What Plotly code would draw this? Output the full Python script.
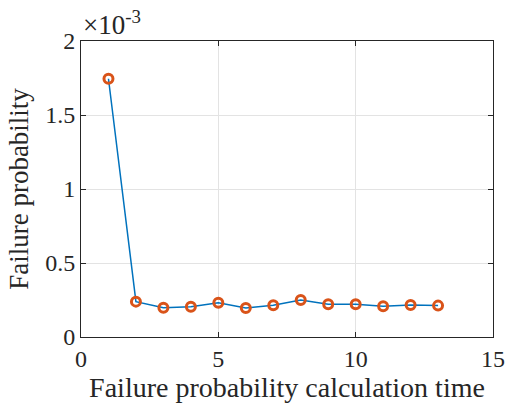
import plotly.graph_objects as go

calc_time = list(range(1, 14))
# failure probability in units of 1e-3
fail_prob = [1.745, 0.239, 0.198, 0.205, 0.232, 0.196, 0.214, 0.250, 0.221, 0.221, 0.207, 0.216, 0.212]
x_ticks = [0, 5, 10, 15]
y_ticks = [0, 0.5, 1, 1.5, 2]
y_tick_labels = ["0", "0.5", "1", "1.5", "2"]

serif = "Liberation Serif"

fig = go.Figure()
fig.add_trace(go.Scatter(
    x=calc_time, y=fail_prob, mode="lines+markers",
    line=dict(color="#0072BD", width=1.5),
    marker=dict(symbol="circle-open", size=9, color="#D95319", line=dict(width=3, color="#D95319")),
    showlegend=False,
))

fig.update_layout(
    width=505, height=408,
    margin=dict(l=81, r=12, t=41, b=71),
    plot_bgcolor="white", paper_bgcolor="white",
    font_family=serif, font_size=24, font_color="#262626",
)
for upd in (fig.update_xaxes, fig.update_yaxes):
    upd(showline=True, mirror="ticks", linecolor="#262626", linewidth=1,
        ticks="inside", ticklen=5, tickcolor="#262626",
        showgrid=True, gridcolor="#e3e3e3", gridwidth=1, zeroline=False,
        automargin=False,
        tickfont_family=serif, tickfont_size=24, tickfont_color="#262626")

fig.update_xaxes(range=[0, 15], tickvals=x_ticks,
                 title_text="Failure probability calculation time",
                 title_font_size=28, title_font_family=serif, title_standoff=4)
fig.update_yaxes(range=[0, 2], tickvals=y_ticks, ticktext=y_tick_labels,
                 title_text="Failure probability",
                 title_font_size=27, title_font_family=serif, title_standoff=8)

fig.add_annotation(text="×10<sup>-3</sup>", x=0, y=1, xref="paper", yref="paper",
                   xanchor="left", yanchor="bottom", showarrow=False, yshift=-1,
                   font=dict(family=serif, size=27, color="#262626"))

fig.write_html("out.html")
